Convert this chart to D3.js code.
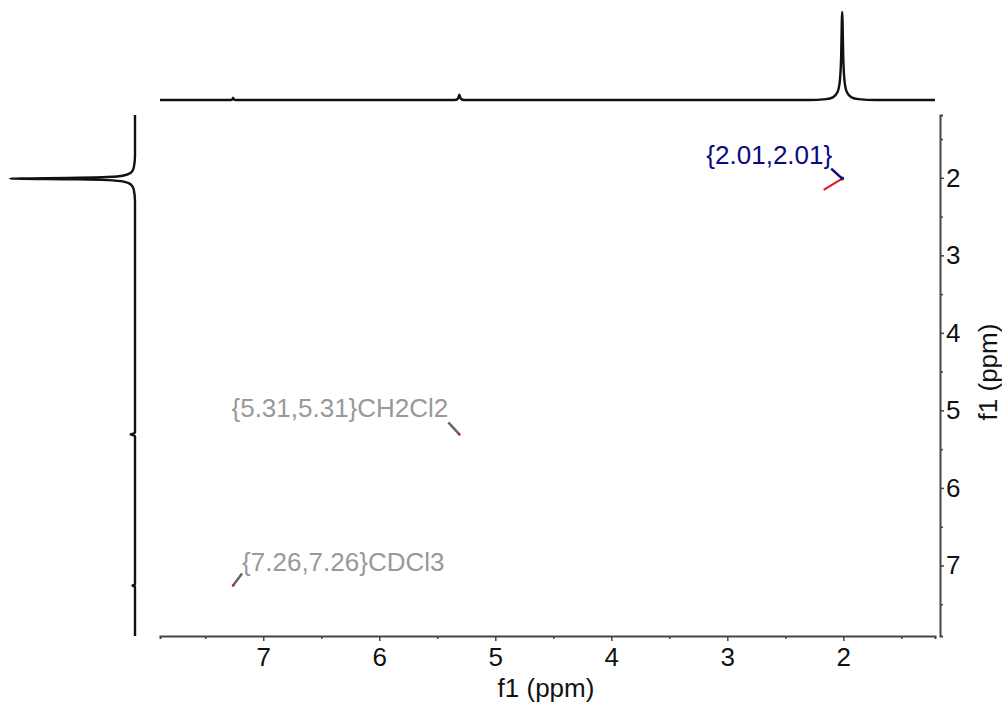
<!DOCTYPE html>
<html>
<head>
<meta charset="utf-8">
<script src="https://cdn.jsdelivr.net/npm/d3@7"></script>
<style>
  body { margin: 0; background: #fff; }
  svg { display: block; font-family: "Liberation Sans", Arial, sans-serif; }
</style>
</head>
<body>
<svg id="chart" width="1002" height="704"></svg>
<script>
// 1D projections: [ppm, relative intensity]
const topTrace = [
  [7.89, 0], [7.28, 0], [7.265, 0.01], [7.26, 0.025], [7.255, 0.01], [7.24, 0],
  [5.35, 0], [5.325, 0.012], [5.315, 0.04], [5.31, 0.06], [5.305, 0.04], [5.295, 0.012], [5.27, 0],
  [2.30, 0], [2.15, 0.01], [2.09, 0.03], [2.05, 0.09], [2.03, 0.22], [2.02, 0.45], [2.01, 1],
  [2.00, 0.45], [1.99, 0.22], [1.97, 0.09], [1.93, 0.03], [1.87, 0.01], [1.72, 0], [1.21, 0]
];
const leftTrace = [
  [1.19, 0], [1.72, 0], [1.87, 0.01], [1.93, 0.03], [1.97, 0.09], [1.99, 0.22], [2.00, 0.45],
  [2.01, 1], [2.02, 0.45], [2.03, 0.22], [2.05, 0.09], [2.09, 0.03], [2.15, 0.01], [2.30, 0],
  [5.29, 0], [5.305, 0.025], [5.31, 0.035], [5.315, 0.025], [5.33, 0],
  [7.245, 0], [7.255, 0.015], [7.26, 0.02], [7.265, 0.015], [7.275, 0], [7.91, 0]
];

// cross peaks
const crossF2 = [2.01, 5.31, 7.26];
const crossF1 = [2.01, 5.31, 7.26];
const crossLabels = ["{2.01,2.01}", "{5.31,5.31}CH2Cl2", "{7.26,7.26}CDCl3"];
const crossKind = ["peak", "solvent", "solvent"];
// the red contour streak next to the 2.01 peak
const redContour = [[2.01, 2.01], [2.17, 2.155]];

const xMajor = [7, 6, 5, 4, 3, 2];
const xMinor = [7.5, 6.5, 5.5, 4.5, 3.5, 2.5, 1.5];
const yMajor = [2, 3, 4, 5, 6, 7];
const yMinor = [1.5, 2.5, 3.5, 4.5, 5.5, 6.5, 7.5];

const svg = d3.select("#chart");

const x = d3.scaleLinear().domain([7.89, 1.21]).range([160, 935]);
const y = d3.scaleLinear().domain([1.19, 7.91]).range([115, 636]);
// intensity scales for the projections
const topI = d3.scaleLinear().domain([0, 1]).range([100, 12]);
const leftI = d3.scaleLinear().domain([0, 1]).range([135, 10]);

// top projection
svg.append("path")
  .datum(topTrace)
  .attr("fill", "none")
  .attr("stroke", "#111")
  .attr("stroke-width", 2.4)
  .attr("d", d3.line().x(d => x(d[0])).y(d => topI(d[1])).curve(d3.curveMonotoneX));

// left projection
svg.append("path")
  .datum(leftTrace)
  .attr("fill", "none")
  .attr("stroke", "#111")
  .attr("stroke-width", 2.4)
  .attr("d", d3.line().x(d => leftI(d[1])).y(d => y(d[0])).curve(d3.curveMonotoneY));

// axes
const styleAxis = g => {
  g.select(".domain").attr("stroke", "#444").attr("stroke-width", 2);
  g.selectAll(".tick line").attr("stroke", "#444").attr("stroke-width", 1.5);
  g.selectAll(".tick text").attr("font-size", 26).attr("fill", "#111")
    .attr("font-family", "'Liberation Sans', Arial, sans-serif");
};

svg.append("g")
  .attr("transform", "translate(0,636)")
  .call(d3.axisBottom(x).tickValues(xMinor).tickSize(3).tickFormat(""))
  .call(styleAxis);
svg.append("g")
  .attr("transform", "translate(0,636)")
  .call(d3.axisBottom(x).tickValues(xMajor).tickSizeInner(5).tickSizeOuter(0).tickPadding(7).tickFormat(d3.format("d")))
  .call(styleAxis)
  .call(g => g.select(".domain").remove());

svg.append("g")
  .attr("transform", "translate(940,0)")
  .call(d3.axisRight(y).tickValues(yMinor).tickSize(3).tickFormat(""))
  .call(styleAxis);
svg.append("g")
  .attr("transform", "translate(940,0)")
  .call(d3.axisRight(y).tickValues(yMajor).tickSizeInner(4).tickSizeOuter(0).tickPadding(2).tickFormat(d3.format("d")))
  .call(styleAxis)
  .call(g => g.select(".domain").remove());

// axis titles
svg.append("text")
  .attr("x", 546).attr("y", 697)
  .attr("text-anchor", "middle")
  .attr("font-size", 26).attr("fill", "#111")
  .text("f1 (ppm)");
svg.append("text")
  .attr("transform", "translate(997,372) rotate(-90)")
  .attr("text-anchor", "middle")
  .attr("font-size", 26).attr("fill", "#111")
  .text("f1 (ppm)");

// red contour
svg.append("path")
  .datum(redContour)
  .attr("fill", "none")
  .attr("stroke", "#e8141c")
  .attr("stroke-width", 2)
  .attr("d", d3.line().x(d => x(d[0])).y(d => y(d[1])));

// labels: text position and leader start relative to the peak, in px
const labelLayout = [
  { dx: -10, dy: -15, anchor: "end", lx: -11, ly: -10 },
  { dx: -11, dy: -17, anchor: "end", lx: -11, ly: -12 },
  { dx: 9, dy: -15, anchor: "start", lx: 9, ly: -12 }
];
const kindColor = { peak: "#0a0a80", solvent: "#999999" };
const leaderColor = { peak: "#0a0a80", solvent: "#666666" };

const peaks = svg.append("g").selectAll("g")
  .data(crossF2.map((f2, i) => ({ f2, f1: crossF1[i], label: crossLabels[i], kind: crossKind[i], lay: labelLayout[i] })))
  .join("g")
  .attr("transform", d => `translate(${x(d.f2)},${y(d.f1)})`);

peaks.append("line")
  .attr("x1", d => d.lay.lx).attr("y1", d => d.lay.ly)
  .attr("x2", 0).attr("y2", 0)
  .attr("stroke", d => leaderColor[d.kind])
  .attr("stroke-width", 2.5);

peaks.append("circle")
  .attr("r", d => d.kind === "peak" ? 2 : 1.3)
  .attr("fill", d => d.kind === "peak" ? "#1a1a70" : "#e8141c");

peaks.append("text")
  .attr("x", d => d.lay.dx).attr("y", d => d.lay.dy)
  .attr("text-anchor", d => d.lay.anchor)
  .attr("font-size", 26)
  .attr("fill", d => kindColor[d.kind])
  .text(d => d.label);
</script>
</body>
</html>
